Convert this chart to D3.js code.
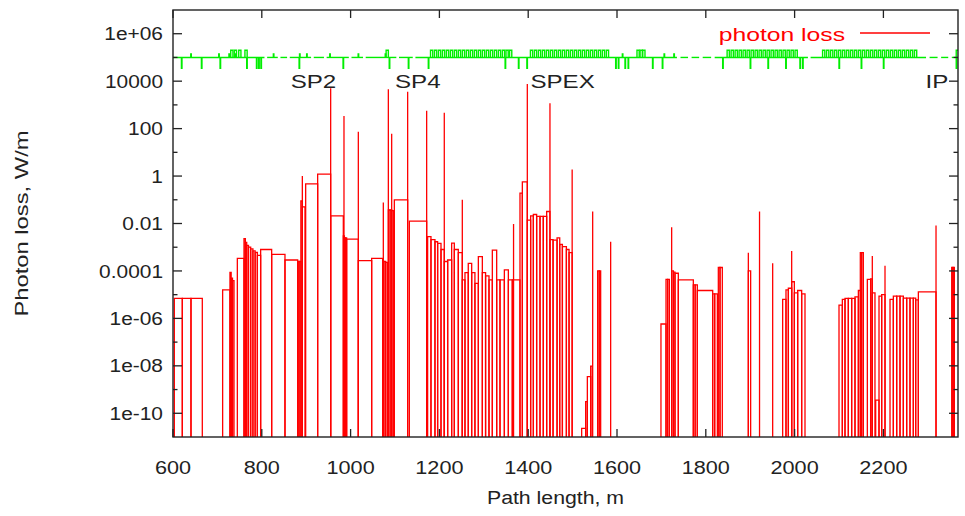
<!DOCTYPE html>
<html>
<head>
<meta charset="utf-8">
<script src="https://cdn.jsdelivr.net/npm/d3@7"></script>
<style>
  body { margin: 0; background: #fff; }
  text { font-family: "Liberation Sans", Arial, sans-serif; fill: #222; }
</style>
</head>
<body>
<svg id="chart" width="965" height="516"></svg>
<script>
// axis ticks
const xTicks = [600, 800, 1000, 1200, 1400, 1600, 1800, 2000, 2200];
const yLabelTicks = [1e6, 1e4, 1e2, 1, 1e-2, 1e-4, 1e-6, 1e-8, 1e-10];
const yLabelText = ["1e+06", "10000", "100", "1", "0.01", "0.0001", "1e-06", "1e-08", "1e-10"];
const yMinorTicks = [1e5, 1e3, 1e1, 1e-1, 1e-3, 1e-5, 1e-7, 1e-9];

// element labels along the line
const markNames = ["SP2", "SP4", "SPEX", "IP"];
const markPos = [865, 1100, 1405, 2295];

// photon loss: [start m, end m, W/m]
const lossBoxes = [
  [603,621,7e-6],[621,640.5,7e-6],[640.5,666,7e-6],
  [711.8,728.3,1.6e-5],[728.3,731,8.7e-5],[731,734,5e-5],[734,737.4,3.9e-5],
  [744.9,759.9,3.4e-4],
  [759.9,763,2.3e-3],[763,766,1.6e-3],[766,770,1.2e-3],[770,775,1.0e-3],[775,780,8.5e-4],[780,785,7e-4],[785,790,6e-4],[790,797.4,4.5e-4],
  [797.4,822.2,8e-4],[822.2,852.2,5e-4],[852.2,880.8,2.9e-4],
  [880.8,884,2.5e-4],[884,888,2.5e-4],[888,891.3,0.09],[891.3,897.3,0.05],
  [898.8,925.8,0.47],[925.8,955.1,1.2],[955.1,983.6,0.021],
  [983.6,986,3e-3],[986,988.5,2.5e-3],[988.5,991.1,2.5e-3],
  [991.1,1017.4,2.2e-3],[1017.4,1047.4,2.7e-4],[1047.4,1072.2,3.4e-4],
  [1072.2,1075,2.5e-4],[1075,1079,2.5e-4],[1079,1083,2.3e-4],
  [1085,1089,0.037],[1089,1092.5,0.037],[1092.5,1096.2,0.035],
  [1098.5,1128.5,0.1],[1132.3,1171.3,0.0126],
  [1173.5,1181,2.8e-3],[1181,1190,2.1e-3],[1190,1196,1.7e-3],[1196,1203.6,1.45e-3],[1203.6,1211,8e-4],
  [1211,1218.6,2.5e-4],[1218.6,1227.6,2.9e-4],[1227.6,1233.6,1.5e-3],[1233.6,1242.6,8e-4],[1242.6,1251.6,5.9e-4],
  [1251.6,1257.6,4.2e-5],[1257.6,1265,8.5e-5],[1265,1272.7,2.1e-4],[1272.7,1280,8.5e-5],[1280,1287.7,3e-5],
  [1287.7,1296.7,4e-4],[1296.7,1304,8.5e-5],[1304,1311.7,6.2e-5],[1311.7,1319.2,4.2e-5],[1319.2,1329,7.6e-4],
  [1329,1336.5,4.2e-5],[1336.5,1346.3,4.2e-5],[1346.3,1355.3,1.1e-4],[1355.3,1364.2,4.2e-5],[1364.2,1381.5,4.2e-5],
  [1381.5,1386.8,0.19],[1386.8,1398,0.57],
  [1398,1405.5,0.014],[1405.5,1411.6,0.021],[1411.6,1419,0.024],[1419,1426.6,0.02],[1426.6,1434,0.02],
  [1434,1441.6,0.02],[1441.6,1449,0.032],
  [1449,1456,2.1e-3],[1456,1465,2e-3],[1465,1471,2.5e-3],[1471,1477,1.3e-3],[1477,1486,1.05e-3],[1486,1492,8e-4],[1492,1499,5.9e-4],
  [1520.4,1529.4,2.3e-11],[1529.4,1533.2,3.1e-10],[1533.2,1540.7,3.5e-9],[1540.7,1544.4,9.8e-9],
  [1556.4,1560,1e-4],[1560,1563.2,1e-4],
  [1699,1710.4,5.8e-7],[1710.4,1714,4.4e-5],[1714,1717.9,4.4e-5],
  [1723.1,1727,1.0e-4],[1727,1730.6,9e-5],[1730.6,1738.1,8e-5],[1738.1,1771.9,4.2e-5],
  [1771.9,1776,2.6e-5],[1776,1780.9,2.6e-5],[1780.9,1815.5,1.5e-5],[1815.5,1820,1.07e-5],[1820,1826,1.07e-5],
  [1828.2,1832,1.4e-4],[1832,1837.2,1.4e-4],
  [1895.8,1901,1e-4],
  [1973.1,1980.6,6.3e-6],[1980.6,1985.9,1.6e-5],[1985.9,1993.4,1.86e-5],[1993.4,1999.4,3.5e-5],
  [1999.4,2006.9,1.2e-5],[2006.9,2015.9,1.5e-5],[2015.9,2023.4,1.07e-5],
  [2100,2107.5,3.6e-6],[2107.5,2113.5,6.3e-6],[2113.5,2121,7e-6],[2121,2128.5,7e-6],[2128.5,2136,7e-6],
  [2136,2143.6,8.1e-6],[2143.6,2148,1.5e-5],[2148,2151,5.9e-4],[2151,2154.8,5.9e-4],
  [2163.8,2171.3,4.4e-5],[2171.3,2175,4.6e-5],[2175,2181,1.2e-5],[2182.6,2190.1,3.6e-10],
  [2190.1,2196.1,8.7e-6],[2196.1,2203.6,1e-5],
  [2214.9,2222.4,6.3e-6],[2222.4,2229.9,8.7e-6],[2229.9,2237.4,8.7e-6],[2237.4,2244.9,8.7e-6],
  [2244.9,2252.4,7.2e-6],[2252.4,2259.9,7.2e-6],[2259.9,2267.4,7.2e-6],[2267.4,2272.7,7.2e-6],[2272.7,2278.7,6e-6],
  [2278.7,2318.5,1.3e-5],
  [2353.8,2356.8,1.4e-4],[2356.8,2359.8,1.4e-4]
];
// narrow peaks: [position m, W/m]
const lossSpikes = [
  [891.3,1.0],[955.1,5000],[985.1,340],[1017.4,74],[1073.7,0.076],[1085,4600],[1092.5,60],
  [1128.5,3600],[1171.3,560],[1211,470],[1251.6,0.1],[1367,0.0095],[1398,7600],[1449,1170],
  [1499,1.9],[1545.2,0.032],[1585.7,1.7e-3],[1723.1,6.9e-3],[1895.8,5.9e-4],[1921,0.032],
  [1950.6,2.1e-4],[1993.4,7e-4],[2175,4.3e-4],[2203.6,1.66e-4],[2318.5,8.2e-3]
];

// lattice sketch drawn at the 1e5 level
const latticeBase = 1e5;
const dipoleStarts = [730,738,748,762,1080,
  1180,1189,1198,1207,1216,1225,1234,1243,1252,1261,1270,1279,1288,1297,1306,1315,1324,1333,1342,1350,1358,
  1405,1414,1423,1432,1441,1450,1459,1468,1477,1486,1495,1504,1513,1522,1531,1540,1549,1558,1567,1576,
  1645,1652,1658,
  1848,1857,1866,1875,1884,1893,1902,1911,1920,1929,1938,1947,1956,1965,1974,1983,1992,2001,
  2063,2072,2081,2090,2099,2108,2117,2126,2135,2144,2153,2162,2171,2180,2189,2198,2207,2216,2225,2234,2243,2252,2261,2270,
  2364];
const quadStarts = [619,664,706,766,788,793,798,884,983,1087,1130,1175,1348,1378,1397,1597,1603,1618,1625,
  1680,1702,1838,1900,1940,1980,2012,2018,2100,2150,2200,2364];
const corrStarts = [640,703,726,741,826,885,901,953,1017,1078,1612,1706,1728];
const latticeGaps = [[806,812],[836,842],[857,863],[911,917],[940,946],[996,1002],[1028,1034],[1103,1109],
  [1140,1146],[1735,1743],[1760,1768],[1785,1793],[1812,1820],[2030,2036],[2296,2304],[2322,2330],[2346,2354]];

const W = 965, H = 516;
const L = 173, R = 958, T = 10, B = 437;
const xMax = 2368;

const svg = d3.select("#chart");
const x = d3.scaleLinear().domain([600, xMax]).range([L, R]);
const y = d3.scaleLog().domain([1e-11, 1e7]).range([B, T]);

svg.append("clipPath").attr("id", "plotclip")
  .append("rect").attr("x", L).attr("y", T).attr("width", R - L).attr("height", B - T);

const plot = svg.append("g").attr("clip-path", "url(#plotclip)");

// the source font is wider than Liberation Sans, so stretch along the text
function label(g, txt, px, py, anchor, sx, rot, color) {
  const t = g.append("text")
    .attr("transform", `translate(${px},${py}) rotate(${rot || 0}) scale(${sx},1)`)
    .attr("text-anchor", anchor)
    .attr("dominant-baseline", "central")
    .attr("font-size", 19)
    .text(txt);
  if (color) t.style("fill", color);
  return t;
}

// red loss boxes
plot.selectAll("path.box").data(lossBoxes).enter().append("path")
  .attr("class", "box")
  .attr("d", d => `M${x(d[0])},${B + 2}V${y(d[2])}H${x(d[1])}V${B + 2}`)
  .attr("fill", "none").attr("stroke", "#ff0000").attr("stroke-width", 1.3);

plot.selectAll("line.spike").data(lossSpikes).enter().append("line")
  .attr("class", "spike")
  .attr("x1", d => x(d[0])).attr("x2", d => x(d[0]))
  .attr("y1", B + 2).attr("y2", d => y(d[1]))
  .attr("stroke", "#ff0000").attr("stroke-width", 1.3);

// green lattice line
const green = plot.append("g").attr("stroke", "#00ee00").attr("stroke-width", 1.4).attr("fill", "none");
const baseSegs = [];
let cur = 600;
latticeGaps.forEach(g => { baseSegs.push([cur, g[0]]); cur = g[1]; });
baseSegs.push([cur, xMax]);
green.selectAll("line.base").data(baseSegs).enter().append("line")
  .attr("x1", d => x(d[0])).attr("x2", d => x(d[1]))
  .attr("y1", y(latticeBase)).attr("y2", y(latticeBase));

function elem(starts, len, val) {
  green.selectAll(null).data(starts).enter().append("path")
    .attr("d", s => `M${x(s)},${y(latticeBase)}V${y(val)}H${x(s + len)}V${y(latticeBase)}`);
}
elem(dipoleStarts, 5, 2e5);
elem(quadStarts, 1.2, 3.5e4);
elem(corrStarts, 1.2, 1.4e5);

// frame
svg.append("rect").attr("x", L).attr("y", T).attr("width", R - L).attr("height", B - T)
  .attr("fill", "none").attr("stroke", "#222").attr("stroke-width", 1.4);

// x ticks (bottom + mirrored top)
const axes = svg.append("g").attr("stroke", "#222").attr("stroke-width", 1.3);
xTicks.forEach(v => {
  axes.append("line").attr("x1", x(v)).attr("x2", x(v)).attr("y1", B).attr("y2", B - 8);
  axes.append("line").attr("x1", x(v)).attr("x2", x(v)).attr("y1", T).attr("y2", T + 8);
});
yLabelTicks.forEach(v => {
  axes.append("line").attr("x1", L).attr("x2", L + 9).attr("y1", y(v)).attr("y2", y(v));
  axes.append("line").attr("x1", R).attr("x2", R - 9).attr("y1", y(v)).attr("y2", y(v));
});
yMinorTicks.forEach(v => {
  axes.append("line").attr("x1", L).attr("x2", L + 4.5).attr("y1", y(v)).attr("y2", y(v));
  axes.append("line").attr("x1", R).attr("x2", R - 4.5).attr("y1", y(v)).attr("y2", y(v));
});

const texts = svg.append("g");
xTicks.forEach(v => label(texts, String(v), x(v), 467, "middle", 1.14));
yLabelTicks.forEach((v, i) => label(texts, yLabelText[i], L - 10, y(v), "end", 1.1));

markNames.forEach((n, i) => label(texts, n, x(markPos[i]), y(1e4), "start", 1.27));

label(texts, "Path length, m", (L + R) / 2 - 10, 497, "middle", 1.12);
label(texts, "Photon loss, W/m", 22, (T + B) / 2, "middle", 1.25, -90);

// legend
label(texts, "photon loss", 845, 35, "end", 1.3, 0, "#ff0000");
svg.append("line").attr("x1", 860).attr("x2", 930).attr("y1", 33).attr("y2", 33)
  .attr("stroke", "#ff0000").attr("stroke-width", 1.3);
</script>
</body>
</html>
